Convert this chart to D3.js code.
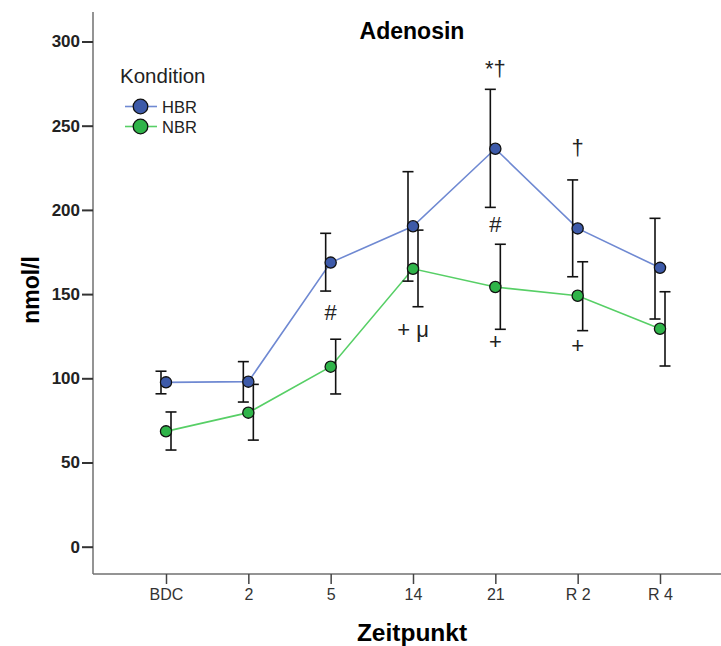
<!DOCTYPE html>
<html><head><meta charset="utf-8">
<script src="https://cdn.jsdelivr.net/npm/d3@7/dist/d3.min.js"></script>
<style>body{margin:0;background:#fff;} svg{display:block;font-family:"Liberation Sans",Arial,sans-serif;}</style>
</head><body>
<svg id="c" width="721" height="646"></svg>
<script>
const categories = ["BDC","2","5","14","21","R 2","R 4"];
const hbrMean  = [97.6, 98.0, 168.7, 190.3, 236.3, 189.0, 165.6];
const hbrUpper = [104.2, 109.9, 186.1, 222.7, 271.6, 217.8, 195.0];
const hbrLower = [90.8, 85.9, 151.8, 157.7, 201.5, 160.3, 135.2];
const nbrMean  = [68.5, 79.6, 106.9, 165.0, 154.2, 149.0, 129.4];
const nbrUpper = [80.0, 96.4, 123.2, 188.0, 179.6, 169.2, 151.4];
const nbrLower = [57.4, 63.3, 90.7, 142.5, 129.1, 128.3, 107.3];
const yTicks = [0, 50, 100, 150, 200, 250, 300];
const annCats  = ["21", "R 2", "5", "21", "14", "21", "R 2"];
const annVals  = [279.5, 232.6, 134.6, 186.9, 124.5, 117.3, 115.0];
const annTexts = ["*†", "†", "#", "#", "+ μ", "+", "+"];
const seriesNames = ["HBR", "NBR"];

const svg = d3.select("#c");
const x = d3.scalePoint().domain(categories).range([166, 660]);
const y = d3.scaleLinear().domain([0, 300]).range([546.7, 41.5]);
const axisColor = "#707070";

// axes lines
svg.append("line").attr("x1",93).attr("x2",93).attr("y1",12).attr("y2",574).attr("stroke",axisColor).attr("stroke-width",1.5);
svg.append("line").attr("x1",93).attr("x2",721).attr("y1",574).attr("y2",574).attr("stroke",axisColor).attr("stroke-width",1.5);

// y axis
const ya = svg.append("g").attr("transform","translate(93,0)")
  .call(d3.axisLeft(y).tickValues(yTicks).tickSize(11).tickSizeOuter(0).tickPadding(2));
ya.select(".domain").remove();
ya.selectAll(".tick line").attr("stroke","#333").attr("stroke-width",2);
ya.selectAll(".tick text").attr("font-size",17).attr("font-weight","bold").attr("fill","#222").attr("font-family","Liberation Sans, Arial, sans-serif");

// x axis
const xa = svg.append("g").attr("transform","translate(0,574)")
  .call(d3.axisBottom(x).tickSize(10).tickSizeOuter(0).tickPadding(5));
xa.select(".domain").remove();
xa.selectAll(".tick line").attr("stroke","#444").attr("stroke-width",1.5);
xa.selectAll(".tick text").attr("font-size",16).attr("fill","#333").attr("font-family","Liberation Sans, Arial, sans-serif");

// titles
svg.append("text").attr("x",412).attr("y",39).attr("text-anchor","middle").attr("font-size",23).attr("font-weight","bold").text("Adenosin");
svg.append("text").attr("x",412).attr("y",641).attr("text-anchor","middle").attr("font-size",24.5).attr("font-weight","bold").text("Zeitpunkt");
svg.append("text").attr("transform","translate(39,290) rotate(-90)").attr("text-anchor","middle").attr("font-size",23).attr("font-weight","bold").text("nmol/l");

const series = [
  {name: seriesNames[0], mean: hbrMean, up: hbrUpper, lo: hbrLower, fill:"#3d5aa9", line:"#6f89d2", dx:-5},
  {name: seriesNames[1], mean: nbrMean, up: nbrUpper, lo: nbrLower, fill:"#2fb449", line:"#57cf66", dx:5}
];

// lines
series.forEach(s => {
  const line = d3.line().x((d,i)=>x(categories[i])).y(d=>y(d));
  svg.append("path").datum(s.mean).attr("d",line).attr("fill","none").attr("stroke",s.line).attr("stroke-width",1.6);
});
// error bars
series.forEach(s => {
  const g = svg.append("g").attr("stroke","#111").attr("stroke-width",1.6);
  categories.forEach((c,i) => {
    const cx = x(c) + s.dx;
    g.append("line").attr("x1",cx).attr("x2",cx).attr("y1",y(s.up[i])).attr("y2",y(s.lo[i]));
    g.append("line").attr("x1",cx-5.5).attr("x2",cx+5.5).attr("y1",y(s.up[i])).attr("y2",y(s.up[i]));
    g.append("line").attr("x1",cx-5.5).attr("x2",cx+5.5).attr("y1",y(s.lo[i])).attr("y2",y(s.lo[i]));
  });
});
// points
series.forEach(s => {
  svg.append("g").selectAll("circle").data(s.mean).join("circle")
    .attr("cx",(d,i)=>x(categories[i])).attr("cy",d=>y(d)).attr("r",5.6)
    .attr("fill",s.fill).attr("stroke","#111").attr("stroke-width",1.3);
});

// annotations
annTexts.forEach((t,i) => {
  svg.append("text").attr("x",x(annCats[i])).attr("y",y(annVals[i])).attr("text-anchor","middle")
    .attr("font-size",22).attr("fill","#222").text(t);
});

// legend
const lg = svg.append("g");
lg.append("text").attr("x",120).attr("y",83).attr("font-size",20.5).attr("fill","#222").text("Kondition");
series.forEach((s,i) => {
  const ly = 106.5 + i*20;
  lg.append("line").attr("x1",125).attr("x2",157).attr("y1",ly).attr("y2",ly).attr("stroke",s.line).attr("stroke-width",1.6);
  lg.append("circle").attr("cx",140.5).attr("cy",ly).attr("r",7.3).attr("fill",s.fill).attr("stroke","#111").attr("stroke-width",1.3);
  lg.append("text").attr("x",162).attr("y",ly+6).attr("font-size",16.5).attr("fill","#222").text(s.name);
});
</script>
</body></html>
